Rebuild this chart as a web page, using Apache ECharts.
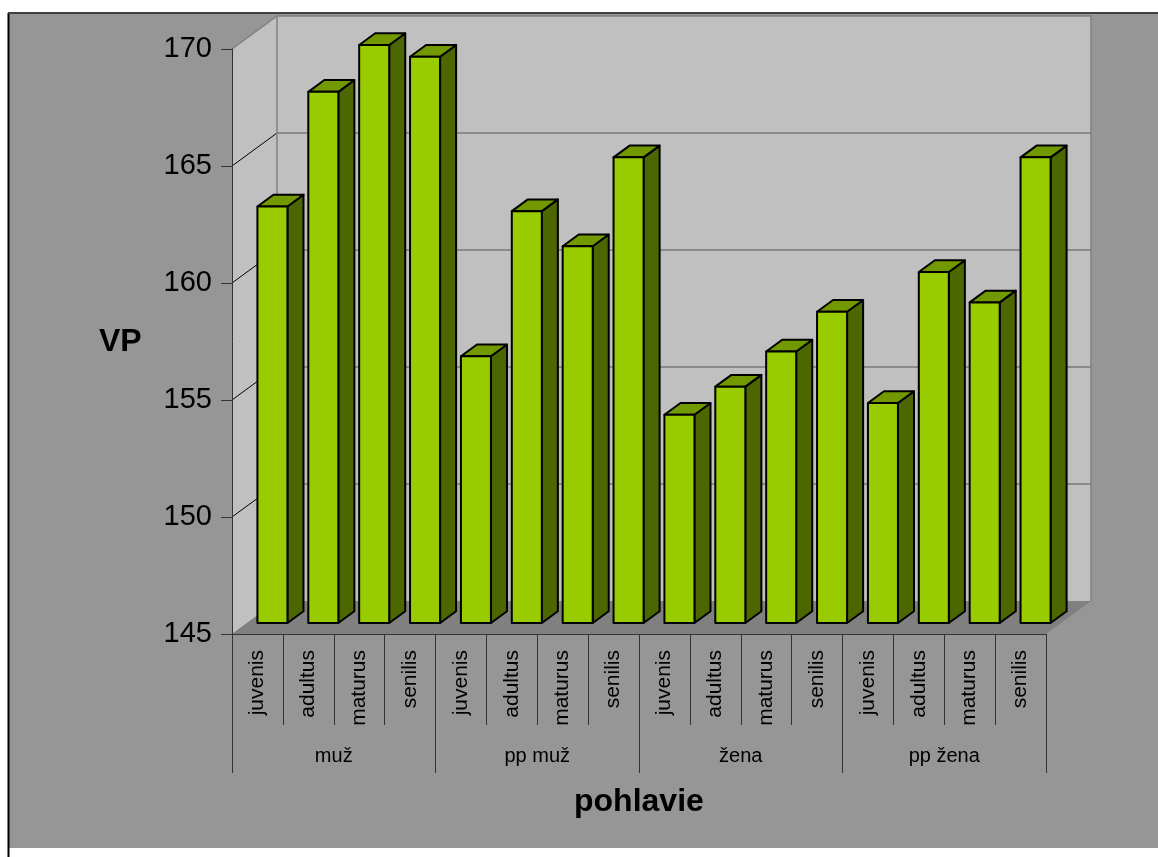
<!DOCTYPE html>
<html lang="sk">
<head>
    <meta charset="UTF-8">
    <title>VP podľa pohlavia</title>
    <style>
        html, body { margin: 0; padding: 0; background: #fff; }
        #chart { width: 1158px; height: 857px; }
    </style>
</head>
<body>
<div id="chart"></div>
<script src="https://cdn.jsdelivr.net/npm/echarts@6/dist/echarts.min.js"></script>
<script type="text/javascript">
    // skupiny a vekové kategórie
    var groups = ['muž', 'pp muž', 'žena', 'pp žena'];
    var ageClasses = ['juvenis', 'adultus', 'maturus', 'senilis',
        'juvenis', 'adultus', 'maturus', 'senilis',
        'juvenis', 'adultus', 'maturus', 'senilis',
        'juvenis', 'adultus', 'maturus', 'senilis'];
    // priemerná VP
    var vpValues = [162.8, 167.7, 169.7, 169.2,
        156.4, 162.6, 161.1, 164.9,
        153.9, 155.1, 156.6, 158.3,
        154.4, 160.0, 158.7, 164.9];
    var yTicks = [145, 150, 155, 160, 165, 170];

    var Y_MIN = yTicks[0], Y_MAX = yTicks[yTicks.length - 1], Y_STEP = yTicks[1] - yTicks[0];
    var DX = 45, DY = -33;          // hĺbka 3D priestoru
    var F1 = 1 / 3, F2 = 0.69;      // predná / zadná stena stĺpca
    var FONT = "'Liberation Sans', Arial, sans-serif";

    function renderWalls(params, api) {
        var cs = params.coordSys;
        var x0 = cs.x, y0 = cs.y, w = cs.width, h = cs.height;
        var yb = y0 + h;
        var children = [
            {type: 'polygon', shape: {points: [[x0, yb], [x0, y0], [x0 + DX, y0 + DY], [x0 + DX, yb + DY]]},
                style: {fill: '#C0C0C0'}},
            {type: 'rect', shape: {x: x0 + DX, y: y0 + DY, width: w, height: h}, style: {fill: '#C0C0C0'}},
            {type: 'polygon', shape: {points: [[x0, yb], [x0 + w, yb], [x0 + w + DX, yb + DY], [x0 + DX, yb + DY]]},
                style: {fill: '#808080'}}
        ];
        for (var k = 1; k < yTicks.length - 1; k++) {
            var y = api.coord([0, yTicks[k]])[1];
            children.push({type: 'line', shape: {x1: x0, y1: y, x2: x0 + DX, y2: y + DY},
                style: {stroke: '#000', lineWidth: 1}});
            children.push({type: 'line', shape: {x1: x0 + DX, y1: y + DY, x2: x0 + w + DX, y2: y + DY},
                style: {stroke: '#555', lineWidth: 1.2}});
        }
        // hrany stien
        children.push({type: 'polyline', shape: {points: [[x0, y0], [x0 + DX, y0 + DY], [x0 + w + DX, y0 + DY], [x0 + w + DX, yb + DY]]},
            style: {stroke: '#808080', lineWidth: 1.5, fill: null}});
        children.push({type: 'line', shape: {x1: x0 + DX, y1: y0 + DY, x2: x0 + DX, y2: yb + DY},
            style: {stroke: '#808080', lineWidth: 1.5}});
        return {type: 'group', children: children};
    }

    function renderBar(params, api) {
        var i = api.value(0), v = api.value(1);
        var top = api.coord([i, v]);
        var base = api.coord([i, Y_MIN]);
        var band = api.size([1, 0])[0];
        var bw = band * 0.59;
        var xl = top[0] - bw / 2 + F1 * DX;
        var xr = xl + bw;
        var yt = top[1] + F1 * DY;
        var yb = base[1] + F1 * DY;
        var ddx = (F2 - F1) * DX, ddy = (F2 - F1) * DY;
        var edge = {stroke: '#000', lineWidth: 2, lineJoin: 'round'};
        return {
            type: 'group',
            children: [
                {type: 'polygon', shape: {points: [[xr, yt], [xr + ddx, yt + ddy], [xr + ddx, yb + ddy], [xr, yb]]},
                    style: Object.assign({fill: '#4C6600'}, edge)},
                {type: 'polygon', shape: {points: [[xl, yt], [xr, yt], [xr + ddx, yt + ddy], [xl + ddx, yt + ddy]]},
                    style: Object.assign({fill: '#739900'}, edge)},
                {type: 'rect', shape: {x: xl, y: yt, width: bw, height: yb - yt},
                    style: Object.assign({fill: '#99CC00'}, edge)}
            ]
        };
    }

    var myChart = echarts.init(document.getElementById('chart'));
    var option = {
        animation: false,
        backgroundColor: '#fff',
        graphic: [
            {type: 'rect', z: -10, shape: {x: 9, y: 14, width: 1149, height: 834}, style: {fill: '#969696'}},
            {type: 'line', z: -9, shape: {x1: 8.5, y1: 13, x2: 8.5, y2: 857}, style: {stroke: '#000', lineWidth: 2}},
            {type: 'line', z: -9, shape: {x1: 8, y1: 13, x2: 1158, y2: 13}, style: {stroke: '#404040', lineWidth: 2}},
            {type: 'text', left: 99, top: 326, style: {text: 'VP', font: 'bold 32px ' + FONT, fill: '#000'}},
            {type: 'text', left: 574, top: 786, style: {text: 'pohlavie', font: 'bold 32px ' + FONT, fill: '#000'}}
        ],
        grid: {left: 232, right: 112, top: 49, bottom: 223},
        xAxis: [
            {
                type: 'category',
                data: ageClasses,
                z: 5,
                axisLine: {lineStyle: {color: '#333', width: 1}},
                axisTick: {show: true, interval: 0, length: 91, lineStyle: {color: '#333'}},
                axisLabel: {interval: 0, rotate: 90, margin: 16, fontSize: 21, color: '#000', fontFamily: FONT}
            },
            {
                type: 'category',
                data: groups,
                position: 'bottom',
                z: 5,
                axisLine: {show: false},
                axisTick: {show: true, interval: 0, length: 139, lineStyle: {color: '#333'}},
                axisLabel: {interval: 0, margin: 112, fontSize: 20, color: '#000', fontFamily: FONT}
            }
        ],
        yAxis: {
            type: 'value',
            min: Y_MIN,
            max: Y_MAX,
            interval: Y_STEP,
            z: 5,
            axisLine: {show: true, lineStyle: {color: '#333', width: 1}},
            axisTick: {show: true, length: 11, lineStyle: {color: '#333'}},
            splitLine: {show: false},
            axisLabel: {margin: 20, fontSize: 29, color: '#000', fontFamily: FONT}
        },
        series: [
            {
                type: 'custom',
                name: 'steny',
                z: 1,
                silent: true,
                renderItem: renderWalls,
                data: [[0, Y_MIN]]
            },
            {
                type: 'custom',
                name: 'VP',
                z: 2,
                renderItem: renderBar,
                encode: {x: 0, y: 1},
                data: vpValues.map(function (v, i) { return [i, v]; })
            }
        ]
    };
    myChart.setOption(option);
</script>
</body>
</html>
